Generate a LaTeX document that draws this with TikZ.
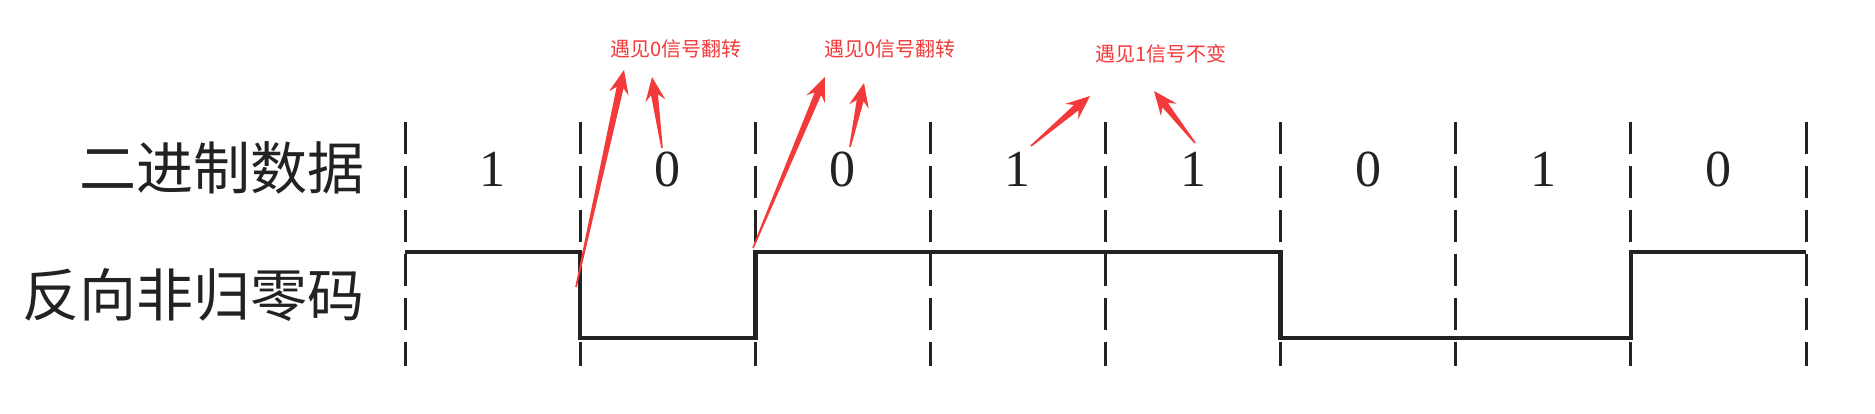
\documentclass[tikz,border=0pt]{standalone}
\usepackage{fontspec}
\newfontfamily\cjk{Noto Sans CJK SC}
\newfontfamily\digitfont{Liberation Serif}
\usetikzlibrary{calc}
\definecolor{annot}{RGB}{242,58,58}
\definecolor{ink}{RGB}{34,34,34}
\tikzset{
  gridline/.style={draw=ink, line width=3pt, dash pattern=on 32pt off 12pt},
  wave/.style={draw=ink, line width=4.5pt, line join=miter},
  rowlabel/.style={font=\cjk\fontsize{57}{62}\selectfont, text=ink, inner sep=0pt, anchor=east},
  bit/.style={font=\digitfont\fontsize{52}{56}\selectfont, text=ink, inner sep=0pt},
  note/.style={font=\cjk\fontsize{20}{24}\selectfont, text=annot, inner sep=0pt},
  arrowfill/.style={fill=annot, draw=none}
}
\newcommand{\redarrow}[3]{%
  \coordinate (#3b) at ($(#2)!24pt!(#1)$);
  \coordinate (#3n) at ($(#2)!18pt!(#1)$);
  \path[arrowfill] ($(#1)!0.8pt!90:(#2)$) -- ($(#3n)!3.5pt!90:(#2)$) -- ($(#3b)!10pt!90:(#2)$) -- (#2)
    -- ($(#3b)!10pt!-90:(#2)$) -- ($(#3n)!3.5pt!-90:(#2)$) -- ($(#1)!0.8pt!-90:(#2)$) -- cycle;}
\begin{document}
\begin{tikzpicture}[x=1pt,y=-1pt]
\useasboundingbox[fill=white] (0,0) rectangle (1875,414);
% row labels
\node[rowlabel] (lbin) at (365,168) {二进制数据};
\node[rowlabel] (lnrz) at (365,295) {反向非归零码};
% vertical dashed boundaries
\foreach \i in {0,...,8} {
  \coordinate (t\i) at ({405+175.125*\i},122);
  \coordinate (b\i) at ({405+175.125*\i},366);
  \draw[gridline] (t\i) -- (b\i);
}
% bits
\foreach \b [count=\k from 0] in {1,0,0,1,1,0,1,0} {
  \node[bit] (d\k) at ({492.5+175.125*\k},169) {\b};
}
% waveform levels
\foreach \i in {0,...,8} {
  \coordinate (h\i) at ({405+175.125*\i},252);
  \coordinate (l\i) at ({405+175.125*\i},338);
}
\draw[wave] (h0) -- (h1) -- (l1) -- (l2) -- (h2) -- (h5) -- (l5) -- (l7) -- (h7) -- (h8);
% annotations
\node[note] (n1) at (676,49) {遇见0信号翻转};
\node[note] (n2) at (890,49) {遇见0信号翻转};
\node[note] (n3) at (1161,54) {遇见1信号不变};
\coordinate (a1t) at (576,287); \coordinate (a1p) at (624,70);
\coordinate (a2t) at (662,148); \coordinate (a2p) at (652,77);
\coordinate (a3t) at (753,248); \coordinate (a3p) at (825,77);
\coordinate (a4t) at (850,147); \coordinate (a4p) at (864,83);
\coordinate (a5t) at (1031,146); \coordinate (a5p) at (1090,96);
\coordinate (a6t) at (1195,143); \coordinate (a6p) at (1154,91);
\redarrow{a1t}{a1p}{ha}
\redarrow{a2t}{a2p}{hb}
\redarrow{a3t}{a3p}{hc}
\redarrow{a4t}{a4p}{hd}
\redarrow{a5t}{a5p}{he}
\redarrow{a6t}{a6p}{hf}
\end{tikzpicture}
\end{document}
